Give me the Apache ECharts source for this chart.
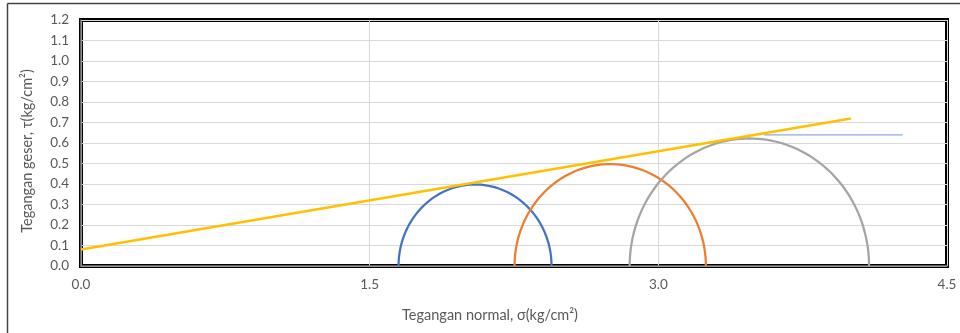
<!DOCTYPE html>
<html>
<head>
<meta charset="utf-8">
<script src="https://cdn.jsdelivr.net/npm/echarts@6/dist/echarts.min.js"></script>
<style>
  html, body { margin: 0; padding: 0; background: #fff; }
  #chart { width: 960px; height: 333px; }
</style>
</head>
<body>
<div id="chart"></div>
<script>
// lingkaran Mohr: [sigma3, sigma1]
var circles = [
  [1.65, 2.445],
  [2.253, 3.247],
  [2.851, 4.095]
]
var circleColors = ['#4472C4', '#ED7D31', '#A5A5A5']

// garis keruntuhan (c + sigma tan phi)
var envelope = [[0, 0.08], [4.0, 0.72]]
// garis bantu horizontal
var helperLine = [[3.55, 0.64], [4.27, 0.64]]

var myChart = echarts.init(document.getElementById('chart'))

var labelFont = 'Lato, "Open Sans", sans-serif'

// setengah lingkaran digambar dari sigma3 dan sigma1
function renderCircle(params, api) {
  var s3 = api.value(0)
  var s1 = api.value(1)
  var c = (s1 + s3) / 2
  var r = (s1 - s3) / 2
  var pts = []
  for (var i = 0; i <= 90; i++) {
    var t = Math.PI * i / 90
    pts.push(api.coord([c + r * Math.cos(t), r * Math.sin(t)]))
  }
  return {
    type: 'polyline',
    shape: { points: pts },
    style: {
      stroke: circleColors[params.dataIndex],
      lineWidth: 2.25,
      fill: null
    }
  }
}

var option = {
  animation: false,
  backgroundColor: '#fff',
  graphic: [
    { type: 'line', shape: { x1: 7.5, y1: 3.5, x2: 960, y2: 3.5 }, style: { stroke: '#444', lineWidth: 1.5 }, silent: true },
    { type: 'line', shape: { x1: 7.5, y1: 3.5, x2: 7.5, y2: 333 }, style: { stroke: '#444', lineWidth: 1.5 }, silent: true }
  ],
  grid: {
    left: 81,
    right: 13,
    top: 20,
    bottom: 67,
    show: true,
    borderColor: '#000',
    borderWidth: 4
  },
  xAxis: {
    type: 'value',
    min: 0,
    max: 4.5,
    interval: 1.5,
    name: 'Tegangan normal, σ(kg/cm²)',
    nameLocation: 'middle',
    nameGap: 42,
    nameTextStyle: { color: '#595959', fontSize: 14.5, fontFamily: labelFont, padding: [0, 48, 0, 0] },
    axisLine: { lineStyle: { color: '#7f7f7f', width: 1.5 } },
    axisTick: { show: false },
    axisLabel: {
      margin: 12,
      color: '#595959',
      fontSize: 13.5,
      fontFamily: labelFont,
      formatter: function (v) { return v.toFixed(1) }
    },
    splitLine: { show: true, lineStyle: { color: '#d9d9d9', width: 1 } }
  },
  yAxis: {
    type: 'value',
    min: 0,
    max: 1.2,
    interval: 0.1,
    name: 'Tegangan geser, τ(kg/cm²)',
    nameLocation: 'middle',
    nameGap: 46,
    nameTextStyle: { color: '#595959', fontSize: 14.5, fontFamily: labelFont, padding: [0, 16, 0, 0] },
    axisLine: { lineStyle: { color: '#7f7f7f', width: 1.5 } },
    axisTick: { show: false },
    axisLabel: {
      margin: 12,
      color: '#595959',
      fontSize: 13.5,
      fontFamily: labelFont,
      formatter: function (v) { return v.toFixed(1) }
    },
    splitLine: { show: true, lineStyle: { color: '#d9d9d9', width: 1 } }
  },
  series: [
    {
      name: 'lingkaran',
      type: 'custom',
      renderItem: renderCircle,
      data: circles,
      clip: true
    },
    {
      name: 'bantu',
      type: 'line',
      data: helperLine,
      symbol: 'none',
      lineStyle: { color: '#8FAADC', width: 1.25 }
    },
    {
      name: 'selubung',
      type: 'line',
      data: envelope,
      symbol: 'none',
      lineStyle: { color: '#FFC000', width: 2.5 }
    }
  ]
}

myChart.setOption(option)
</script>
</body>
</html>
